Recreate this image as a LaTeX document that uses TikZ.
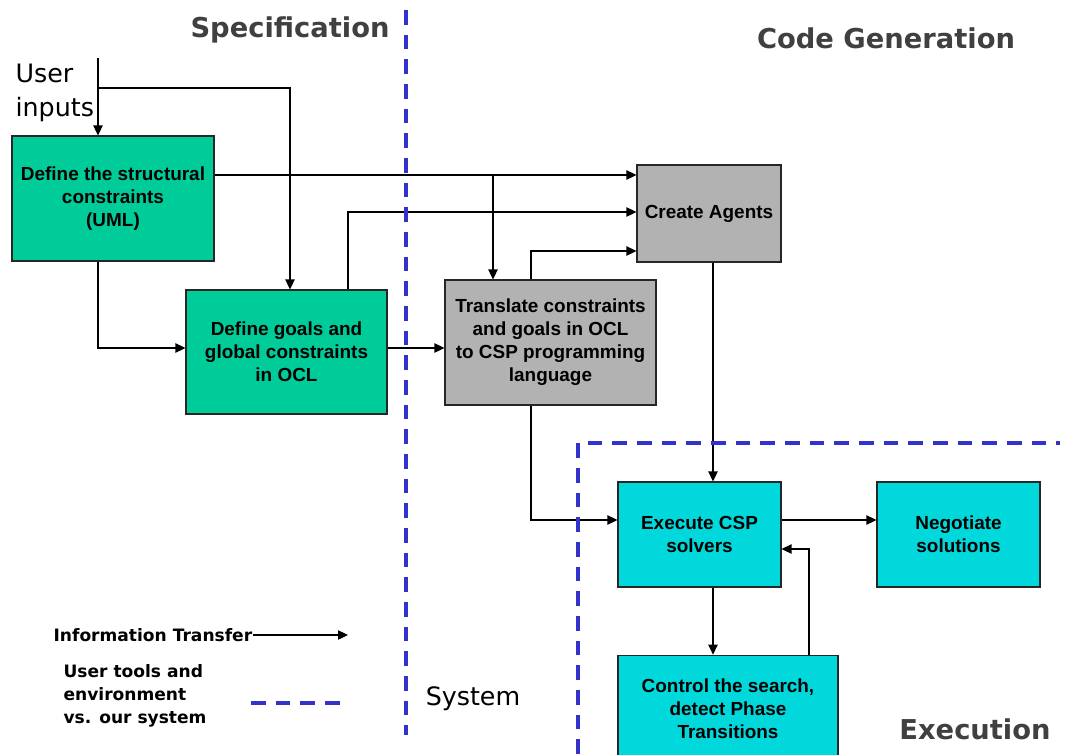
\documentclass[tikz,border=0pt]{standalone}
\usepackage{fontspec}
\setmainfont{Liberation Sans}
\newfontfamily\verdfont{DejaVu Sans}
\usetikzlibrary{arrows.meta,positioning}

\definecolor{specgreen}{RGB}{0,204,153}
\definecolor{agentgray}{RGB}{178,178,178}
\definecolor{execcyan}{RGB}{0,216,220}
\definecolor{bordblue}{RGB}{51,51,204}
\definecolor{titlegray}{RGB}{64,64,64}

\tikzset{
  box/.style={draw=black!85, line width=0.8pt, inner sep=0pt, align=center,
    font=\fontsize{14.2}{17.3}\selectfont\bfseries},
  greenbox/.style={box, fill=specgreen},
  graybox/.style={box, fill=agentgray},
  cyanbox/.style={box, fill=execcyan},
  phase/.style={font=\verdfont\fontsize{20.5}{24}\selectfont\bfseries, text=titlegray, inner sep=0pt},
  plainlbl/.style={font=\verdfont\fontsize{19}{25.5}\selectfont, inner sep=0pt},
  legendlbl/.style={font=\verdfont\fontsize{12.8}{17.3}\selectfont\bfseries, inner sep=0pt, align=left},
  boundary/.style={-, draw=bordblue, line width=2.3pt, dash pattern=on 11pt off 7.5pt}
}

\begin{document}
\begin{tikzpicture}[x=0.75pt, y=-0.75pt, >={Triangle[length=7.5pt,width=7pt]}, ->, line width=0.9pt]
\useasboundingbox (0,0) rectangle (1066,754);

% phase titles
\node[phase] (spec) at (290,30) {Specification};
\node[phase] (codegen) at (886,38) {Code Generation};
\node[phase] (exec) at (975,729) {Execution};
\node[plainlbl] (system) at (473,699) {System};
\node[plainlbl, align=left, anchor=west] (user) at (15,93) {User\\inputs};

% boxes
\node[greenbox, minimum width=151.5pt, minimum height=93.75pt] (struct) at (113,198.5) {Define the structural\\constraints\\(UML)};
\node[greenbox, minimum width=150.75pt, minimum height=93pt] (goals) at (286.5,352) {Define goals and\\global constraints\\in OCL};
\node[graybox, minimum width=158.25pt, minimum height=93.75pt] (translate) at (550.5,342.5) {Translate constraints\\and goals in OCL\\to CSP programming\\language};
\node[graybox, minimum width=108pt, minimum height=72.75pt] (agents) at (709,213.5) {Create Agents};
\node[cyanbox, minimum width=122.25pt, minimum height=78.75pt] (execute) at (699.5,534.5) {Execute CSP\\solvers};
\node[cyanbox, minimum width=122.25pt, minimum height=78.75pt] (negotiate) at (958.5,534.5) {Negotiate\\solutions};
\node[cyanbox, minimum width=165pt, minimum height=80pt] (control) at (728,708.5) {Control the search,\\detect Phase\\Transitions};

% bend points
\coordinate (userin) at (98,58);
\coordinate (ubranch) at (98,88);
\coordinate (sbranch) at (493,175);

% information transfer
\draw (userin) -- (userin |- struct.north);
\draw (ubranch) -| (goals.north -| 290,0);
\draw (struct.east |- 0,175) -- (agents.west |- 0,175);
\draw (sbranch) -- (translate.north -| sbranch);
\draw (goals.north -| 348,0) |- (agents.west |- 0,212);
\draw (translate.north -| 531,0) |- (agents.west |- 0,251);
\draw (struct.south -| 98,0) |- (goals.west |- 0,348);
\draw (goals.east |- 0,348) -- (translate.west |- 0,348);
\draw (translate.south -| 531,0) |- (execute.west |- 0,520);
\draw (agents.south -| 713,0) -- (execute.north -| 713,0);
\draw (execute.east |- 0,520) -- (negotiate.west |- 0,520);
\draw (execute.south -| 713,0) -- (control.north -| 713,0);
\draw (control.north -| 809,0) |- (execute.east |- 0,549);

% system boundaries
\draw[boundary] (406,10) -- (406,735);
\draw[boundary] (578,754) -- (578,443) -- (1060,443);

% legend
\node[legendlbl, anchor=west] (infolbl) at (53,635) {Information Transfer};
\coordinate (infoend) at (348,635);
\draw (infolbl.east) -- (infoend);
\node[legendlbl, anchor=west] (toollbl) at (63,696) {User tools and\\environment\\vs. our system};
\coordinate (dashstart) at (251,703);
\coordinate (dashend) at (340,703);
\draw[boundary] (dashstart) -- (dashend);
\end{tikzpicture}
\end{document}
